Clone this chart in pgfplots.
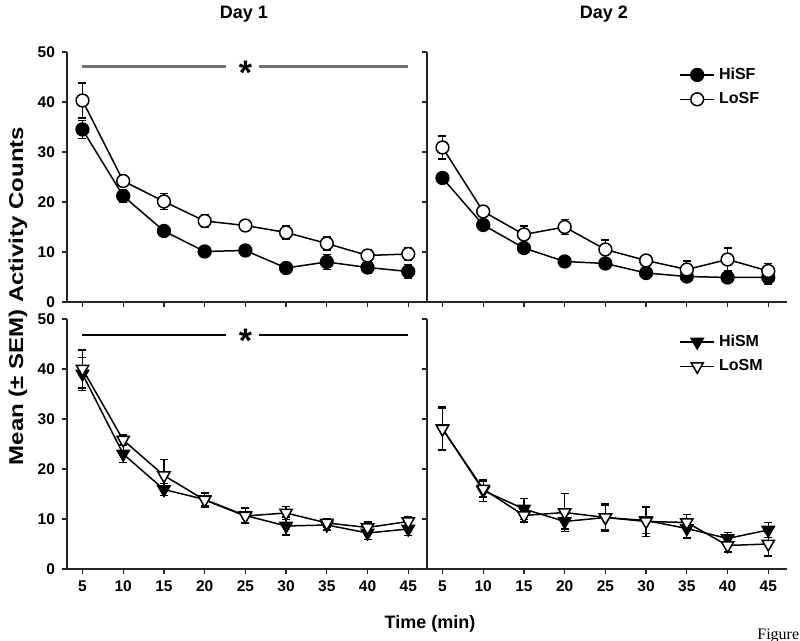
\documentclass[border=0pt]{standalone}
\usepackage{fontspec}
\setmainfont{Liberation Sans}
\newfontfamily\ylabfont[FakeStretch=1.2]{Liberation Sans}
\newfontfamily\seriffont{Liberation Serif}
\usepackage{pgfplots}
\pgfplotsset{compat=1.18}

% 1 px of the reference = 0.5pt
\pgfplotsset{
  panel/.style={
    scale only axis, width=180pt, height=125pt,
    xmin=3.1, xmax=47.3, ymin=0, ymax=50,
    axis x line*=bottom, axis y line*=left,
    xtick={5,10,...,45}, ytick={0,10,...,50},
    tick align=outside, major tick length=2.5pt,
    axis line style={line width=1pt, black!85},
    tick style={line width=0.6pt, black!85},
    ticklabel style={font=\fontsize{7.75}{9}\selectfont\bfseries},
    /pgf/number format/assume math mode=true,
    clip=false,
    legend style={draw=none, fill=none, at={(0.70,0.955)}, anchor=north west,
      font=\fontsize{8}{9}\selectfont\bfseries, inner sep=0pt, row sep=1pt},
    legend cell align=left,
  },
  % the cap is drawn sloped along the bar, so "|" comes out across it
  ser/.style={black, line width=0.75pt,
    error bars/y dir=both, error bars/y explicit,
    error bars/error mark=|,
    error bars/error bar style={line width=0.6pt, black},
    error bars/error mark options={line width=0.6pt, mark size=2pt, black}},
  circ/.style={ser, mark=*, mark size=3.2pt},
  tri/.style={ser, mark=triangle*, mark size=3.5pt},
}

\begin{document}
\begin{tikzpicture}
\useasboundingbox (0,0) rectangle (400pt,320.5pt);

% Day 1, SF
\begin{axis}[panel, at={(33.5pt,169.5pt)}, anchor=south west, xticklabels={}]
  \addplot[black!55, line width=1.5pt] coordinates {(5,47) (22.6,47)};
  \addplot[black!55, line width=1.5pt] coordinates {(26.7,47) (45,47)};
  \node[font=\fontsize{17}{17}\selectfont\bfseries, yshift=-3pt] at (axis cs:25,47) {*};
  \addplot[circ, mark options={fill=black}] coordinates {
    (5,34.5) +- (0,1.8) (10,21.2) +- (0,1.2) (15,14.2) +- (0,0.9)
    (20,10.1) +- (0,0.8) (25,10.3) +- (0,0.9) (30,6.8) +- (0,0.6)
    (35,8.0) +- (0,1.5) (40,6.9) +- (0,1.1) (45,6.1) +- (0,1.4)
  };
  \addplot[circ, mark options={fill=white}] coordinates {
    (5,40.3) +- (0,3.5) (10,24.2) +- (0,1.0) (15,20.1) +- (0,1.6)
    (20,16.2) +- (0,1.3) (25,15.3) +- (0,0.8) (30,13.9) +- (0,1.3)
    (35,11.7) +- (0,1.3) (40,9.3) +- (0,1.2) (45,9.6) +- (0,1.2)
  };
\end{axis}

% Day 2, SF
\begin{axis}[panel, at={(213.5pt,169.5pt)}, anchor=south west, xticklabels={}, yticklabels={}]
  \addplot[circ, mark options={fill=black}] coordinates {
    (5,24.8) +- (0,0.6) (10,15.4) +- (0,0.8) (15,10.8) +- (0,1.0)
    (20,8.1) +- (0,1.0) (25,7.7) +- (0,0.8) (30,5.8) +- (0,0.7)
    (35,5.1) +- (0,0.9) (40,4.9) +- (0,0.6) (45,4.9) +- (0,1.4)
  };
  \addlegendentry{HiSF}
  \addplot[circ, mark options={fill=white}] coordinates {
    (5,30.9) +- (0,2.3) (10,18.1) +- (0,0.8) (15,13.5) +- (0,1.7)
    (20,15.0) +- (0,1.5) (25,10.5) +- (0,1.9) (30,8.3) +- (0,0.6)
    (35,6.5) +- (0,1.7) (40,8.5) +- (0,2.3) (45,6.2) +- (0,1.5)
  };
  \addlegendentry{LoSF}
\end{axis}

% Day 1, SM
\begin{axis}[panel, at={(33.5pt,36pt)}, anchor=south west]
  \addplot[black, line width=0.6pt] coordinates {(5,46.8) (22.6,46.8)};
  \addplot[black, line width=0.6pt] coordinates {(26.7,46.8) (45,46.8)};
  \node[font=\fontsize{17}{17}\selectfont\bfseries, yshift=-3pt] at (axis cs:25,46.8) {*};
  \addplot[tri, mark options={fill=black, rotate=180}] coordinates {
    (5,39.0) +- (0,3.3) (10,23.0) +- (0,1.7) (15,15.9) +- (0,1.2)
    (20,13.9) +- (0,1.3) (25,10.7) +- (0,1.5) (30,8.6) +- (0,1.8)
    (35,8.8) +- (0,1.0) (40,7.2) +- (0,1.3) (45,8.0) +- (0,1.3)
  };
  \addplot[tri, mark options={fill=white, rotate=180}] coordinates {
    (5,40.0) +- (0,3.8) (10,25.8) +- (0,1.0) (15,18.7) +- (0,3.2)
    (20,13.8) +- (0,1.5) (25,10.6) +- (0,1.5) (30,11.2) +- (0,1.3)
    (35,9.2) +- (0,0.8) (40,8.3) +- (0,1.1) (45,9.5) +- (0,1.0)
  };
\end{axis}

% Day 2, SM
\begin{axis}[panel, at={(213.5pt,36pt)}, anchor=south west, yticklabels={}]
  \addplot[tri, mark options={fill=black, rotate=180}] coordinates {
    (5,28.1) +- (0,4.4) (10,15.7) +- (0,2.2) (15,12.0) +- (0,2.1)
    (20,9.5) +- (0,1.5) (25,10.3) +- (0,2.4) (30,9.7) +- (0,2.6)
    (35,8.1) +- (0,1.9) (40,6.1) +- (0,1.2) (45,7.8) +- (0,1.5)
  };
  \addlegendentry{HiSM}
  \addplot[tri, mark options={fill=white, rotate=180}] coordinates {
    (5,28.0) +- (0,4.2) (10,16.0) +- (0,1.6) (15,10.7) +- (0,1.3)
    (20,11.3) +- (0,3.8) (25,10.3) +- (0,2.7) (30,9.5) +- (0,3.0)
    (35,9.3) +- (0,1.6) (40,4.7) +- (0,1.3) (45,5.0) +- (0,2.4)
  };
  \addlegendentry{LoSM}
\end{axis}

% titles and shared labels
\node[font=\fontsize{9}{10}\selectfont\bfseries] at (122pt,313.5pt) {Day 1};
\node[font=\fontsize{9}{10}\selectfont\bfseries] at (302pt,313.5pt) {Day 2};
\node[font=\fontsize{9}{10}\selectfont\bfseries] at (215pt,8.5pt) {Time (min)};
\node[rotate=90, font=\fontsize{10}{12}\selectfont\ylabfont\bfseries] at (9pt,172.5pt) {Mean (± SEM) Activity Counts};
\begin{scope}
  \clip (0,0) rectangle (400pt,320.5pt);
  \node[anchor=north west, inner sep=0pt, font=\fontsize{8}{9}\selectfont\seriffont] at (378.5pt,6pt) {Figure};
\end{scope}
\end{tikzpicture}
\end{document}
